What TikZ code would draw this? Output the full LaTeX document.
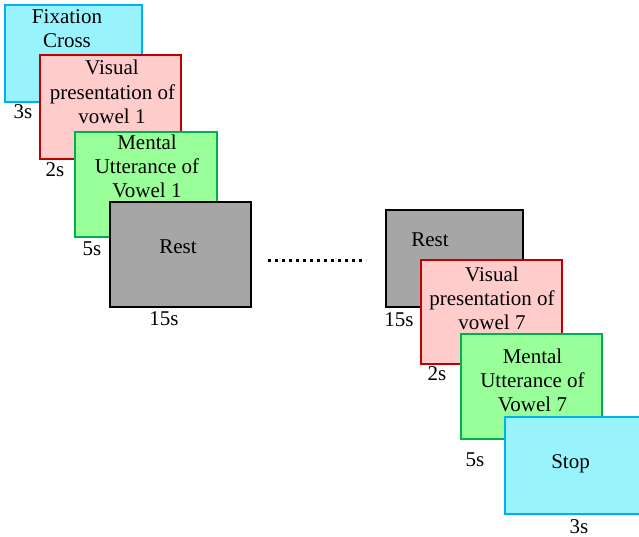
\documentclass[tikz,border=0pt]{standalone}
\usepackage{fontspec}
\setmainfont{Liberation Serif}
\newfontfamily\diagfont{Liberation Serif}
\definecolor{cyanfill}{RGB}{153,243,253}
\definecolor{cyanline}{RGB}{0,176,240}
\definecolor{redfill}{RGB}{255,204,204}
\definecolor{redline}{RGB}{192,0,0}
\definecolor{greenfill}{RGB}{153,255,153}
\definecolor{greenline}{RGB}{0,176,80}
\definecolor{greyfill}{RGB}{166,166,166}
\begin{document}
\begin{tikzpicture}[x=1pt,y=-1pt,
  box/.style={rectangle, line width=1.8pt, inner sep=0pt},
  cyanbox/.style={box, fill=cyanfill, draw=cyanline},
  redbox/.style={box, fill=redfill, draw=redline},
  greenbox/.style={box, fill=greenfill, draw=greenline},
  greybox/.style={box, fill=greyfill, draw=black},
  txt/.style={font=\diagfont\fontsize{21}{24}\selectfont, inner sep=0pt, anchor=base, align=center},
  lbl/.style={font=\diagfont\fontsize{21}{24}\selectfont, inner sep=0pt, anchor=base}
]
\useasboundingbox (0,0) rectangle (639,537);
% left group
\node[cyanbox, minimum width=137pt, minimum height=97pt] (fix) at (73.5,53.5) {};
\node[txt] (fixt1) at (67,24) {Fixation};
\node[txt] (fixt2) at (67,48) {Cross};
\node[lbl] (l3a) at (23,119) {3s};
\node[redbox, minimum width=141pt, minimum height=104pt] (vis1) at (110.5,107) {};
\node[txt] (vis1a) at (112,75) {Visual};
\node[txt] (vis1b) at (112.5,99.5) {presentation of};
\node[txt] (vis1c) at (112,124) {vowel 1};
\node[lbl] (l2a) at (55,177) {2s};
\node[greenbox, minimum width=142pt, minimum height=105pt] (men1) at (146,184.5) {};
\node[txt] (men1a) at (147,150) {Mental};
\node[txt] (men1b) at (147,174) {Utterance of};
\node[txt] (men1c) at (147,197.5) {Vowel 1};
\node[lbl] (l5a) at (92,255) {5s};
\node[greybox, minimum width=141pt, minimum height=105pt] (rest1) at (180.5,254.5) {};
\node[txt] (rest1t) at (178,253) {Rest};
\node[lbl] (l15a) at (164,325) {15s};
% dots
\coordinate (dA) at (268,260);
\coordinate (dB) at (366,260);
\draw[line width=3pt, dash pattern=on 3pt off 4pt] (dA) -- (dB);
% right group
\node[greybox, minimum width=137pt, minimum height=97pt] (rest2) at (454.5,258.5) {};
\node[txt] (rest2t) at (430,246) {Rest};
\node[lbl] (l15b) at (399,326) {15s};
\node[redbox, minimum width=141pt, minimum height=104pt] (vis7) at (491.5,312) {};
\node[txt] (vis7a) at (492,281) {Visual};
\node[txt] (vis7b) at (492,305.5) {presentation of};
\node[txt] (vis7c) at (492,329.5) {vowel 7};
\node[lbl] (l2b) at (437,380) {2s};
\node[greenbox, minimum width=141pt, minimum height=105pt] (men7) at (531.5,386.5) {};
\node[txt] (men7a) at (532.5,363) {Mental};
\node[txt] (men7b) at (532.5,387) {Utterance of};
\node[txt] (men7c) at (532.5,411.5) {Vowel 7};
\node[lbl] (l5b) at (475,466) {5s};
\node[cyanbox, minimum width=137pt, minimum height=97pt] (stop) at (573.5,465.5) {};
\node[txt] (stopt) at (570.5,468) {Stop};
\node[lbl] (l3b) at (579,533) {3s};
\end{tikzpicture}
\end{document}
